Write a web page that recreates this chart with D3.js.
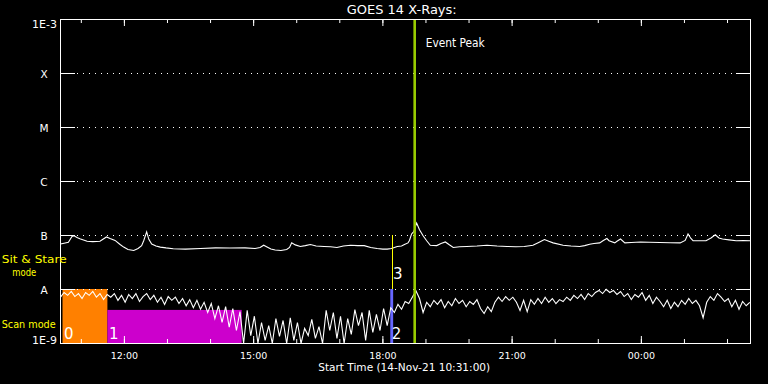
<!DOCTYPE html>
<html><head><meta charset="utf-8">
<script src="https://cdn.jsdelivr.net/npm/d3@7"></script>
<style>body{margin:0;background:#000;} svg{display:block;}</style>
</head><body><svg id="c" width="768" height="384"></svg>
<script>
// ---------------- data ----------------
const titleText = "GOES 14 X-Rays:";
const startTime = "2021-11-14T10:31:00Z";
const startLabel = "Start Time (14-Nov-21 10:31:00)";
const endMinute = 961;
const levelValues = [1e-9, 1e-8, 1e-7, 1e-6, 1e-5, 1e-4, 1e-3];
const levelLabels = ["1E-9", "A", "B", "C", "M", "X", "1E-3"];

// long channel (1-8 A), minutes after start, flux in 1e-9 W/m^2
const longMinutes = [0,5,11,16,19,23,27,37,45,55,64,69,76,83,88,94,102,108,113,116,120,123,127,133,139,147,157,174,195,216,236,257,271,278,283,287,293,299,307,315,319,322,327,334,341,348,356,367,376,385,394,404,414,423,432,441,449,455,461,469,475,479,484,486,489,492,496,500,505,510,515,524,530,536,541,547,556,566,580,594,608,622,634,646,658,666,674,680,686,700,711,723,730,737,743,751,756,761,764,772,775,780,786,795,808,820,835,849,863,870,874,878,881,890,899,906,912,917,922,931,941,951,961];
const longFlux_e9 = [69.5,72,75,96,99,92,87,78,77,78,94,88,81,68,61,55,52.7,57.5,65,81,117,85,69.5,64,61,59,57,56,57.5,59,58.5,59,57.5,60,66,62,56,54,52.7,55,60,73,67,62.7,65,68,64,62.7,62,60,64,66,65,65,60,57.5,56,56,57.5,62.7,64,68,73,81,107,118,170,128,99,80,66,65,71,76,68,60,62,62.7,64,66,64,62.7,62,62.7,66,74.4,84,78,73,66,64,62.7,65,69,71,73,81,88,80,73,78,86,73,74.4,76,75,74.4,73.5,73,81,107,88,80,80,80,90,103,90,86,83,80,81,80];

// short channel (0.5-4 A), every 5 minutes from start, flux in 1e-9 W/m^2
const shortStepMinutes = 5;
const shortFlux_e9 = [
  7.2,8.8,7.8,9.2,7.4,8.4,6.8,8.8,7.8,9.2,7.2,8.4,6.5,8.1,
  7.2,8.4,6.3,7.8,5.8,8.1,6.8,8.4,6.0,7.4,8.4,6.5,7.8,5.8,7.2,5.3,7.4,6.3,7.2,5.5,6.8,5.0,6.5,4.6,6.3,4.3,
  5.8,3.75,5.5,2.9,5.0,2.45,4.8,2.0,4.45,1.74,3.9,
  1.0,4.1,1.4,3.2,1.0,2.45,1.14,2.15,1.0,2.9,1.35,2.67,1.0,3.0,
  1.14,2.45,1.0,1.9,1.4,2.8,1.24,2.06,1.0,4.1,1.74,3.75,1.24,3.2,1.0,2.9,1.47,4.25,2.15,3.75,1.14,4.1,1.6,3.45,1.74,4.45,2.15,
  4.6,3.75,5.3,4.3,6.0,5.5,7.2,9.5,6.8,3.75,5.8,
  4.8,6.3,5.3,6.5,4.6,6.0,5.0,6.8,5.5,6.3,4.8,6.0,5.3,6.5,4.45,3.6,4.8,3.9,5.8,7.2,6.0,7.4,6.3,7.2,5.8,4.1,6.3,
  3.9,6.5,5.3,6.8,5.5,7.2,5.8,6.8,5.5,6.5,6.0,7.2,6.3,7.8,6.8,8.1,6.5,8.4,7.4,8.8,9.6,8.4,10.1,8.8,9.6,8.1,9.2,7.4,8.4,6.5,8.1,7.2,
  8.8,6.3,7.8,5.5,7.2,6.0,4.8,6.3,4.45,5.8,4.8,6.3,5.3,6.8,5.5,6.3,5.0,3.0,5.8,7.4,6.3,8.4,7.2,6.0,6.8,4.8,6.3,4.3,6.0,5.0,5.8
];

// observing modes
const scanModeLabels = ["0", "1", "2"];
const scanStartMin = [3.5, 66, 460];
const scanEndMin = [66, 253, 464];
const scanTopFlux = [1e-8, 4.1e-9, 1e-8];
const sitStareLabel = "3";
const sitStareMin = 463;
const sitStareFlux = [1e-8, 1e-7];
const eventPeakMin = 494;
const eventPeakLabel = "Event Peak";
const sideLabelsSit = ["Sit & Stare", "mode"];
const sideLabelScan = "Scan mode";

// ---------------- drawing ----------------
const W = 768, H = 384;
const X0 = 60, X1 = 750, Y0 = 343, Y1 = 19;
const FONT = "DejaVu Sans, sans-serif";
const scanColors = ["#ff8000", "#cc00cc", "#6666ff"];
const t0 = new Date(startTime);
const tAt = m => new Date(t0.getTime() + m * 60000);

const x = d3.scaleUtc().domain([tAt(0), tAt(endMinute)]).range([X0, X1]);
const y = d3.scaleLog().domain([1e-9, 1e-3]).range([Y0, Y1]);

const svg = d3.select("#c");
svg.append("rect").attr("width", W).attr("height", H).attr("fill", "#000");

svg.append("clipPath").attr("id", "plot").append("rect")
  .attr("x", X0).attr("y", Y1).attr("width", X1 - X0 + 1).attr("height", Y0 - Y1 + 1);

const plot = svg.append("g").attr("clip-path", "url(#plot)");

// scan mode rectangles
scanModeLabels.forEach((lab, i) => {
  const xa = x(tAt(scanStartMin[i])), xb = x(tAt(scanEndMin[i]));
  plot.append("rect")
    .attr("x", xa).attr("width", xb - xa)
    .attr("y", y(scanTopFlux[i])).attr("height", Y0 - y(scanTopFlux[i]) + 1)
    .attr("fill", scanColors[i]);
});

// grid lines (dotted)
levelValues.slice(1, -1).forEach(v => {
  svg.append("line")
    .attr("x1", X0 + 17).attr("x2", X1 - 15)
    .attr("y1", y(v) + 0.5).attr("y2", y(v) + 0.5)
    .attr("stroke", "#fff").attr("stroke-width", 1)
    .attr("stroke-dasharray", "1 5");
});

// curves
const lineGen = d3.line()
  .x(d => x(d.t) + 0.5)
  .y(d => y(Math.max(d.v, 1e-9)) + 0.5);
const longData = longMinutes.map((m, i) => ({ t: tAt(m), v: longFlux_e9[i] * 1e-9 }));
const shortData = shortFlux_e9.map((v, i) => ({ t: tAt(i * shortStepMinutes), v: v * 1e-9 }));
[longData, shortData].forEach(d => {
  plot.append("path").datum(d).attr("d", lineGen)
    .attr("fill", "none").attr("stroke", "#fff").attr("stroke-width", 1.1)
    .attr("stroke-linejoin", "miter");
});

// sit & stare line
const sx = Math.round(x(tAt(sitStareMin))) + 0.5;
svg.append("line").attr("x1", sx).attr("x2", sx)
  .attr("y1", y(sitStareFlux[1])).attr("y2", y(sitStareFlux[0]))
  .attr("stroke", "#ffff00").attr("stroke-width", 1);

// event peak line
const ex = x(tAt(eventPeakMin));
svg.append("line").attr("x1", ex).attr("x2", ex)
  .attr("y1", Y1).attr("y2", Y0 + 1)
  .attr("stroke", "#99cc00").attr("stroke-width", 2.6);

// mode number labels
scanModeLabels.forEach((lab, i) => {
  svg.append("text").attr("x", x(tAt(scanStartMin[i])) + 1.5).attr("y", 338.5)
    .attr("fill", "#fff").attr("font-family", FONT).attr("font-size", 15).text(lab);
});
svg.append("text").attr("x", sx + 0.5).attr("y", 278.5)
  .attr("fill", "#fff").attr("font-family", FONT).attr("font-size", 15).text(sitStareLabel);

// axes
const gB = svg.append("g").attr("transform", `translate(0,${Y0})`)
  .call(d3.axisBottom(x).ticks(d3.utcHour.every(1)).tickSize(-4).tickFormat(""));
const gB3 = svg.append("g").attr("transform", `translate(0,${Y0})`)
  .call(d3.axisBottom(x).ticks(d3.utcHour.every(3)).tickSize(-7).tickPadding(0)
    .tickFormat(d3.utcFormat("%H:%M")));
const gT = svg.append("g").attr("transform", `translate(0,${Y1})`)
  .call(d3.axisTop(x).ticks(d3.utcHour.every(1)).tickSize(-4).tickFormat(""));
const gT3 = svg.append("g").attr("transform", `translate(0,${Y1})`)
  .call(d3.axisTop(x).ticks(d3.utcHour.every(3)).tickSize(-7).tickFormat(""));
const gL = svg.append("g").attr("transform", `translate(${X0},0)`)
  .call(d3.axisLeft(y).tickValues(levelValues).tickSize(-15)
    .tickFormat((d, i) => levelLabels[i]));
const gR = svg.append("g").attr("transform", `translate(${X1},0)`)
  .call(d3.axisRight(y).tickValues(levelValues).tickSize(-14).tickFormat(""));

[gB, gB3, gT, gT3, gL, gR].forEach(g => {
  g.select(".domain").remove();
  g.selectAll(".tick line").attr("stroke", "#fff").attr("stroke-width", 1);
});
gB3.selectAll(".tick text").attr("fill", "#fff").attr("font-family", FONT)
  .attr("font-size", 9.5).attr("dy", null).attr("y", 15.5);
gL.selectAll(".tick text").attr("fill", "#fff").attr("font-family", FONT)
  .attr("font-size", 10.5).attr("dy", null)
  .each(function (d, i) {
    const t = d3.select(this);
    if (i === 0) t.attr("x", -3).attr("y", 0.3).attr("text-anchor", "end").attr("font-size", 11);
    else if (i === levelValues.length - 1) t.attr("x", -3).attr("y", 8.3).attr("text-anchor", "end").attr("font-size", 11);
    else t.attr("x", -16).attr("y", 4.3).attr("text-anchor", "middle");
  });

// frame
svg.append("rect").attr("x", X0 + 0.5).attr("y", Y1 + 0.5)
  .attr("width", X1 - X0).attr("height", Y0 - Y1)
  .attr("fill", "none").attr("stroke", "#fff").attr("stroke-width", 1);

// texts
svg.append("text").attr("x", 401.7).attr("y", 14).attr("text-anchor", "middle")
  .attr("fill", "#fff").attr("font-family", FONT).attr("font-size", 12.5)
  .attr("textLength", 110).attr("lengthAdjust", "spacingAndGlyphs").text(titleText);
svg.append("text").attr("x", ex + 11).attr("y", 47.3)
  .attr("fill", "#fff").attr("font-family", FONT).attr("font-size", 12)
  .attr("textLength", 59).attr("lengthAdjust", "spacingAndGlyphs").text(eventPeakLabel);
svg.append("text").attr("x", 404.2).attr("y", 371).attr("text-anchor", "middle")
  .attr("fill", "#fff").attr("font-family", FONT).attr("font-size", 10.5)
  .attr("textLength", 172).attr("lengthAdjust", "spacingAndGlyphs").text(startLabel);

svg.append("text").attr("x", 1.7).attr("y", 263)
  .attr("fill", "#ffff00").attr("font-family", FONT).attr("font-size", 10.5)
  .attr("textLength", 65).attr("lengthAdjust", "spacingAndGlyphs").text(sideLabelsSit[0]);
svg.append("text").attr("x", 24.3).attr("y", 275.5).attr("text-anchor", "middle")
  .attr("fill", "#ffff00").attr("font-family", FONT).attr("font-size", 10.5)
  .attr("textLength", 24).attr("lengthAdjust", "spacingAndGlyphs").text(sideLabelsSit[1]);
svg.append("text").attr("x", 1.7).attr("y", 328.3)
  .attr("fill", "#ffff00").attr("font-family", FONT).attr("font-size", 10)
  .attr("textLength", 54).attr("lengthAdjust", "spacingAndGlyphs").text(sideLabelScan);
</script>
</body></html>
